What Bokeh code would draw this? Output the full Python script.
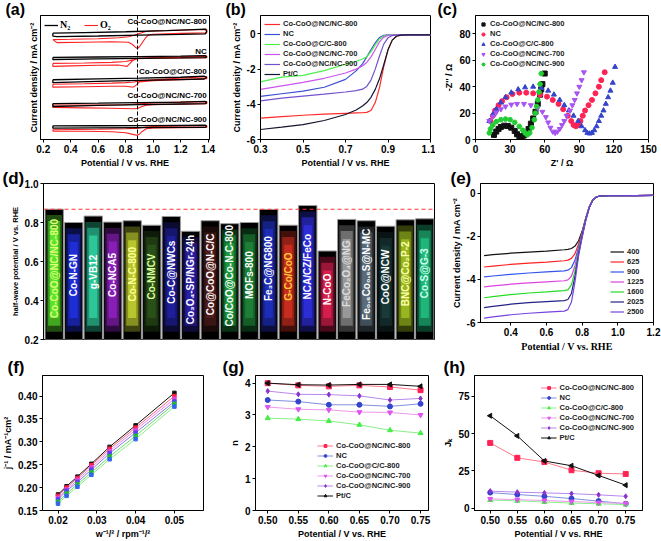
import numpy as np
from bokeh.plotting import figure
from bokeh.models import Range1d, FixedTicker, Label, Legend, LegendItem, Span, NumeralTickFormatter
from bokeh.layouts import column, row
from bokeh.embed import file_html
from bokeh.resources import INLINE
from bokeh.core.properties import value

FONT = "Liberation Sans"
SERIF = "Liberation Serif"

# ---------------- (a) CV curves, stacked (arbitrary offset units) ----------------
a_names = ["Co-CoO@NC/NC-800", "NC", "Co-CoO@C/C-800", "Co-CoO@NC/NC-700", "Co-CoO@NC/NC-900"]
a_n2_v = [
    [0.27, 0.5, 0.8, 1.1, 1.34, 1.38, 1.39, 1.38, 1.2, 0.9, 0.6, 0.3, 0.27, 0.27],
    [0.27, 0.6, 0.9, 1.2, 1.38, 1.39, 1.38, 1.2, 0.9, 0.6, 0.27, 0.27],
    [0.27, 0.6, 0.9, 1.2, 1.37, 1.39, 1.37, 1.2, 0.9, 0.6, 0.27, 0.27],
    [0.27, 0.6, 0.9, 1.2, 1.38, 1.39, 1.38, 1.2, 0.9, 0.6, 0.27, 0.27],
    [0.27, 0.6, 0.9, 1.2, 1.38, 1.39, 1.38, 1.2, 0.9, 0.6, 0.27, 0.27],
]
a_n2_j = [
    [-2.28, -2.22, -2.12, -2.00, -1.86, -1.84, -2.05, -2.36, -2.42, -2.51, -2.60, -2.67, -2.60, -2.28],
    [-5.00, -4.95, -4.90, -4.85, -4.80, -4.92, -5.03, -5.06, -5.10, -5.16, -5.23, -5.00],
    [-7.50, -7.40, -7.32, -7.22, -7.10, -7.25, -7.42, -7.48, -7.58, -7.68, -7.83, -7.50],
    [-10.17, -10.12, -10.06, -10.00, -9.93, -10.04, -10.17, -10.22, -10.30, -10.38, -10.50, -10.17],
    [-12.67, -12.66, -12.64, -12.62, -12.60, -12.71, -12.83, -12.85, -12.88, -12.90, -12.93, -12.67],
]
a_o2_v = [
    [0.27, 0.4, 0.6, 0.75, 0.82, 0.86, 0.9, 0.94, 0.98, 1.1, 1.3, 1.39, 1.39, 1.2, 1.0, 0.964, 0.94, 0.92, 0.90, 0.886, 0.87, 0.85, 0.82, 0.7, 0.5, 0.3, 0.27],
    [0.27, 0.5, 0.7, 0.8, 0.86, 0.9, 1.0, 1.39, 1.39, 1.0, 0.886, 0.85, 0.83, 0.81, 0.78, 0.745, 0.6, 0.4, 0.27, 0.27],
    [0.27, 0.5, 0.7, 0.8, 0.86, 0.9, 1.0, 1.39, 1.39, 1.0, 0.9, 0.88, 0.86, 0.84, 0.8, 0.7, 0.5, 0.27, 0.27],
    [0.27, 0.6, 0.8, 0.9, 1.0, 1.39, 1.39, 1.0, 0.95, 0.92, 0.89, 0.86, 0.7, 0.5, 0.27, 0.27],
    [0.27, 0.6, 0.8, 0.88, 0.95, 1.0, 1.39, 1.39, 1.0, 0.95, 0.92, 0.9, 0.88, 0.86, 0.8, 0.7, 0.5, 0.27, 0.27],
]
a_o2_j = [
    [-3.00, -2.97, -2.90, -2.80, -2.68, -2.52, -2.32, -2.13, -2.03, -1.98, -1.89, -1.86, -2.25, -2.30, -2.40, -2.50, -2.90, -3.35, -3.80, -4.00, -3.85, -3.55, -3.30, -3.25, -3.30, -3.34, -3.00],
    [-5.67, -5.63, -5.55, -5.45, -5.25, -5.10, -5.00, -4.85, -5.03, -5.10, -5.15, -5.35, -5.70, -6.00, -5.93, -5.85, -5.88, -5.95, -6.00, -5.67],
    [-8.00, -7.95, -7.88, -7.82, -7.75, -7.63, -7.50, -7.15, -7.38, -7.60, -7.75, -8.05, -8.30, -8.32, -8.23, -8.23, -8.28, -8.33, -8.00],
    [-10.33, -10.33, -10.30, -10.20, -10.10, -9.95, -10.20, -10.30, -10.35, -10.50, -10.70, -10.75, -10.70, -10.65, -10.60, -10.33],
    [-13.10, -13.05, -13.00, -12.95, -12.80, -12.75, -12.65, -12.85, -12.90, -13.00, -13.30, -13.60, -13.73, -13.65, -13.45, -13.33, -13.28, -13.27, -13.10],
]
a_label_j = [-1.0, -4.3, -6.6, -9.3, -12.0]
a_peak_v = 0.886

# ---------------- (b) LSV at 1600 rpm ----------------
b_names = ["Co-CoO@NC/NC-800", "NC", "Co-CoO@C/C-800", "Co-CoO@NC/NC-700", "Co-CoO@NC/NC-900", "Pt/C"]
b_colors = ["#ff2a2a", "#3b4fd3", "#4cf04c", "#cc55ee", "#7452cf", "#14142e"]
b_v = [0.30, 0.40, 0.50, 0.60, 0.70, 0.75, 0.78, 0.80, 0.82, 0.84, 0.86, 0.88, 0.90, 0.92, 0.94, 0.96, 1.00, 1.10]
b_j = [
    [-4.78, -4.70, -4.62, -4.56, -4.51, -4.49, -4.48, -4.46, -4.35, -3.90, -3.05, -1.85, -0.90, -0.35, -0.13, -0.07, -0.05, -0.04],
    [-3.55, -3.40, -3.25, -3.03, -2.58, -2.10, -1.70, -1.30, -0.90, -0.50, -0.20, -0.08, -0.05, -0.05, -0.04, -0.04, -0.04, -0.04],
    [-2.72, -2.45, -2.35, -2.08, -1.72, -1.55, -1.42, -1.30, -1.00, -0.62, -0.28, -0.11, -0.06, -0.05, -0.05, -0.05, -0.05, -0.05],
    [-3.15, -2.95, -2.75, -2.52, -2.22, -2.00, -1.82, -1.62, -1.30, -0.88, -0.45, -0.18, -0.08, -0.06, -0.05, -0.05, -0.05, -0.05],
    [-3.80, -3.65, -3.53, -3.42, -3.30, -3.22, -3.14, -2.98, -2.62, -2.00, -1.25, -0.58, -0.22, -0.09, -0.06, -0.05, -0.05, -0.05],
    [-5.43, -5.30, -5.15, -4.92, -4.58, -4.32, -4.10, -3.90, -3.60, -3.15, -2.55, -1.75, -0.90, -0.35, -0.13, -0.07, -0.05, -0.05],
]

# ---------------- (c) Nyquist plots ----------------
c_names = ["Co-CoO@NC/NC-800", "NC", "Co-CoO@C/C-800", "Co-CoO@NC/NC-700", "Co-CoO@NC/NC-900"]
c_colors = ["#111111", "#ff2255", "#3344cc", "#a855f0", "#22cc33"]
c_markers = ["square", "circle", "triangle", "inverted_triangle", "hex"]
c_zre = [
    [16, 18, 20, 22, 25, 28, 31, 34, 36, 38, 40, 42, 44, 46, 48, 50, 52, 54, 56, 57, 58, 60],
    [13, 15, 17, 20, 23, 27, 32, 38, 44, 50, 56, 62, 67, 72, 76, 80, 83, 85, 87, 89, 91, 93, 95, 98, 101, 104, 107, 109, 112],
    [12, 15, 18, 22, 26, 31, 37, 43, 50, 57, 63, 68, 73, 77, 81, 85, 89, 92, 95, 97, 99, 101, 103, 105, 107, 109, 111, 113, 115, 117, 119, 121],
    [12, 15, 18, 22, 26, 31, 36, 42, 48, 54, 58, 61, 63, 65, 67, 69, 71, 73, 75, 77, 79, 82, 84, 86, 88, 90, 92, 94],
    [12, 13, 15, 18, 22, 26, 30, 34, 38, 41, 43, 45, 47, 49, 51, 52, 53, 54, 55, 56, 57],
]
c_zim = [
    [3.5, 6, 8, 9.5, 10.5, 10.2, 9, 6.5, 4, 2.5, 2, 3, 5, 8, 12, 16, 21, 27, 34, 38, 42, 50],
    [14, 18, 22, 26, 29, 32, 34.5, 35.5, 35.5, 35, 34, 32.5, 30, 27, 23, 18, 14, 11, 10, 11, 14, 18, 22, 26, 30, 35, 40, 45, 51],
    [14, 19, 23, 28, 32, 35.5, 38, 39.5, 40, 39, 37, 34, 30, 26, 22, 18, 14, 10, 7, 5, 4.5, 5, 7, 10, 14, 18, 22, 27, 32, 37, 43, 55],
    [14, 17.5, 20.5, 23, 25, 26.5, 27, 27, 26, 24, 21, 17, 13, 9, 6, 5, 6, 8, 11, 14, 18, 22, 26, 30, 35, 40, 45, 51],
    [5, 8, 11, 13.5, 15, 15.5, 15, 13, 10, 7, 5, 3.5, 5, 9, 15, 20, 25, 30, 36, 42, 50],
]

# ---------------- (d) half-wave potential comparison ----------------
d_labels = ["Co-CoO@NC/NC-800", "Co-N-GN", "g-VB12", "Co-NCA5", "Co-N-C-800", "Co-NMCV",
            "Co-C@NWCs", "Co₃O₄-SP/NGr-24h", "Co@CoO@N-C/C", "Co/CoO@Co-N-C-800", "MOFs-800",
            "Fe₃C@NG800", "G-Co/CoO", "NCA/CZ/FeCo", "N-CoO", "FeCo₂O₄@NG", "Fe₀.₅Co₀.₅S@N-MC",
            "CoO@NCW", "BNC@Co₂P-2", "Co-S@G-3"]
d_values = [0.868, 0.800, 0.833, 0.802, 0.809, 0.786, 0.831, 0.755, 0.809, 0.794,
            0.800, 0.867, 0.786, 0.887, 0.654, 0.816, 0.809, 0.781, 0.814, 0.819]
d_glow = ["#66ff33", "#2233ee", "#33ddaa", "#9922cc", "#ccdd33", "#2f5a1e", "#2222aa", "#3322bb", "#5a2020", "#22aa44",
          "#1f8f3c", "#2233cc", "#dd3322", "#3333ee", "#ee2255", "#aaaaaa", "#667788", "#1e4040", "#aacc22", "#22cc88"]
d_text_colors = ["#ddff77", "#ffffff", "#ffffff", "#ffffff", "#ffff99", "#ddff99", "#ffffff", "#ffffff", "#ffffff", "#ffffff",
                 "#ffffff", "#ffffff", "#ffcc33", "#ffffff", "#ffffff", "#dddddd", "#ffffff", "#ffffff", "#ffffaa", "#ccffee"]

# ---------------- (e) LSV at various rotation rates ----------------
e_rpm = ["400", "625", "900", "1225", "1600", "2025", "2500"]
e_colors = ["#111111", "#ff2222", "#3355ee", "#dd44dd", "#22dd22", "#222288", "#7744dd"]
e_v = [0.25, 0.30, 0.40, 0.50, 0.60, 0.70, 0.72, 0.74, 0.76, 0.78, 0.80, 0.82, 0.84, 0.86, 0.88, 0.90, 0.95, 1.00, 1.10, 1.20]
e_j = [
    [-2.89, -2.85, -2.78, -2.73, -2.68, -2.62, -2.60, -2.56, -2.45, -2.20, -1.75, -1.15, -0.62, -0.30, -0.16, -0.12, -0.11, -0.11, -0.10, -0.09],
    [-3.42, -3.38, -3.30, -3.24, -3.19, -3.13, -3.10, -3.02, -2.80, -2.35, -1.80, -1.15, -0.62, -0.30, -0.16, -0.12, -0.11, -0.11, -0.10, -0.09],
    [-3.88, -3.84, -3.76, -3.70, -3.65, -3.60, -3.57, -3.45, -3.10, -2.50, -1.85, -1.18, -0.63, -0.30, -0.16, -0.12, -0.11, -0.11, -0.10, -0.09],
    [-4.34, -4.30, -4.22, -4.16, -4.11, -4.06, -4.02, -3.85, -3.35, -2.60, -1.90, -1.20, -0.64, -0.30, -0.16, -0.12, -0.11, -0.11, -0.10, -0.09],
    [-4.85, -4.80, -4.70, -4.63, -4.58, -4.52, -4.48, -4.25, -3.60, -2.70, -1.95, -1.22, -0.65, -0.30, -0.16, -0.12, -0.11, -0.11, -0.10, -0.09],
    [-5.31, -5.25, -5.15, -5.08, -5.03, -4.98, -4.93, -4.65, -3.85, -2.80, -2.00, -1.25, -0.66, -0.31, -0.16, -0.12, -0.11, -0.11, -0.10, -0.09],
    [-5.80, -5.74, -5.64, -5.57, -5.52, -5.47, -5.40, -5.05, -4.10, -2.90, -2.05, -1.27, -0.67, -0.31, -0.16, -0.12, -0.11, -0.11, -0.10, -0.09],
]

# ---------------- (f) Koutecky-Levich plots ----------------
f_w = [0.0200, 0.0222, 0.0250, 0.0286, 0.0333, 0.0400, 0.0500]
f_colors = ["#111111", "#ff2244", "#dd44dd", "#5544ee", "#22bb33", "#3366ee"]
f_line_colors = ["#111111", "#ff6677", "#ee88ee", "#8877ee", "#66dd66", "#88ee88"]
f_j = [
    [0.185, 0.203, 0.224, 0.252, 0.289, 0.336, 0.407],
    [0.182, 0.200, 0.221, 0.249, 0.285, 0.331, 0.400],
    [0.178, 0.196, 0.217, 0.244, 0.280, 0.326, 0.394],
    [0.174, 0.193, 0.212, 0.239, 0.275, 0.320, 0.388],
    [0.169, 0.187, 0.207, 0.233, 0.268, 0.313, 0.383],
    [0.165, 0.182, 0.202, 0.228, 0.262, 0.306, 0.377],
]

# ---------------- (g) electron transfer number, (h) kinetic current ----------------
gh_v = [0.50, 0.55, 0.60, 0.65, 0.70, 0.75]
gh_names = ["Co-CoO@NC/NC-800", "NC", "Co-CoO@C/C-800", "Co-CoO@NC/NC-700", "Co-CoO@NC/NC-900", "Pt/C"]
gh_colors = ["#ff2255", "#3344cc", "#44ee44", "#dd55ee", "#8833cc", "#111111"]
gh_line_colors = ["#ff7788", "#8090dd", "#88f088", "#ee99ee", "#b888ee", "#111111"]
gh_markers = ["square", "circle", "triangle", "inverted_triangle", "diamond", "triangle"]
gh_angles = [0, 0, 0, 0, 0, np.pi / 2]
g_n = [
    [4.00, 3.93, 3.90, 3.93, 3.88, 3.78],
    [3.47, 3.42, 3.32, 3.32, 3.27, 3.35],
    [2.90, 2.87, 2.81, 2.69, 2.52, 2.43],
    [3.25, 3.18, 3.16, 3.09, 3.08, 3.00],
    [3.75, 3.65, 3.64, 3.60, 3.47, 3.52],
    [4.00, 3.95, 3.94, 3.96, 3.96, 3.90],
]
h_jk = [
    [43.8, 33.8, 31.0, 25.5, 23.5, 23.0],
    [10.5, 9.2, 8.0, 6.5, 4.8, 3.0],
    [5.5, 5.0, 4.2, 3.5, 3.0, 2.5],
    [6.3, 5.8, 5.2, 4.5, 3.8, 3.3],
    [11.5, 10.8, 10.3, 9.8, 9.0, 8.0],
    [62.0, 48.5, 31.7, 28.5, 22.0, 15.5],
]


def mk(w, h, l, r, t, b, xr, yr, xticks=None, yticks=None, xfmt=None, yfmt=None):
    p = figure(width=w, height=h, x_range=Range1d(*xr), y_range=Range1d(*yr),
               output_backend="svg", toolbar_location=None,
               min_border_left=l, min_border_right=r, min_border_top=t, min_border_bottom=b)
    p.xgrid.visible = False
    p.ygrid.visible = False
    p.outline_line_color = "black"
    p.outline_line_alpha = 1
    p.outline_line_width = 1
    p.background_fill_color = "white"
    p.border_fill_color = "white"
    for ax in (p.xaxis[0], p.yaxis[0]):
        ax.axis_line_color = "black"
        ax.major_tick_out = 3
        ax.major_tick_in = 0
        ax.minor_tick_out = 0
        ax.minor_tick_in = 0
        ax.major_label_text_font = FONT
        ax.major_label_text_font_style = "bold"
        ax.major_label_text_font_size = "10px"
        ax.major_label_text_color = "black"
        ax.major_label_standoff = 2
        ax.axis_label_text_font = FONT
        ax.axis_label_text_font_style = "bold"
        ax.axis_label_text_font_size = "9px"
        ax.axis_label_text_color = "black"
        ax.axis_label_standoff = 2
    if xticks is not None:
        p.xaxis.ticker = FixedTicker(ticks=xticks)
    if yticks is not None:
        p.yaxis.ticker = FixedTicker(ticks=yticks)
    if xfmt is not None:
        p.xaxis.formatter = NumeralTickFormatter(format=xfmt)
    if yfmt is not None:
        p.yaxis.formatter = NumeralTickFormatter(format=yfmt)
    return p


def tag_title(p, txt, dx, so, size="17px"):
    # panel letter drawn as the figure title, shifted left of the frame
    p.title.text = txt
    p.title.align = "left"
    p.title.offset = dx
    p.title.standoff = so
    p.title.text_font = FONT
    p.title.text_font_style = "bold"
    p.title.text_font_size = size
    p.title.text_color = "black"


def style_legend(lg, size="7.5px", lh=8):
    lg.background_fill_alpha = 0
    lg.border_line_alpha = 0
    lg.label_text_font = FONT
    lg.label_text_font_style = "bold"
    lg.label_text_font_size = size
    lg.label_text_color = "#222222"
    lg.label_height = lh
    lg.glyph_height = lh
    lg.glyph_width = 16
    lg.spacing = 1
    lg.padding = 2
    lg.margin = 2
    lg.label_standoff = 3


# ===== (a) =====
pa = mk(220, 170, 40, 11, 3, 28, (0.18, 1.41), (-14.2, -0.3), xticks=[0.2, 0.4, 0.6, 0.8, 1.0, 1.2, 1.4], yticks=[],
        xfmt="0.0")
pa.xaxis.axis_label = "Potential / V vs. RHE"
pa.yaxis.axis_label = "Current density / mA cm⁻²"
pa.add_layout(Span(location=a_peak_v, dimension="height", line_color="black", line_dash="4 2", line_width=1))
r_o2 = None
r_n2 = None
for i in range(len(a_names)):
    ro = pa.line(a_o2_v[i], a_o2_j[i], line_color="#ff2020", line_width=1.1)
    rn = pa.line(a_n2_v[i], a_n2_j[i], line_color="black", line_width=1.3)
    if i == 0:
        r_o2, r_n2 = ro, rn
    pa.add_layout(Label(x=1.39, y=a_label_j[i], text=a_names[i], text_font=FONT, text_font_style="bold",
                        text_font_size="8px", text_align="right", text_baseline="middle", text_color="black"))
lga = Legend(items=[LegendItem(label="N₂", renderers=[r_n2]), LegendItem(label="O₂", renderers=[r_o2])],
             orientation="horizontal", location="top_left")
style_legend(lga, size="10px", lh=10)
lga.label_text_font = SERIF
lga.label_text_color = "black"
lga.glyph_width = 14
lga.label_standoff = 2
lga.spacing = 4
pa.add_layout(lga)
tag_title(pa, "(a)", -35, -4, "16px")

# ===== (b) =====
pb = mk(215, 170, 40, 5, 3, 28, (0.3, 1.1), (-6, 1.05), xticks=[0.3, 0.5, 0.7, 0.9, 1.1], yticks=[0, -2, -4, -6],
        xfmt="0.0", yfmt="0")
pb.xaxis.axis_label = "Potential / V vs. RHE"
pb.yaxis.axis_label = "Current density / mA cm⁻²"
items = []
for i in range(len(b_names)):
    r = pb.line(b_v, b_j[i], line_color=b_colors[i], line_width=1.2)
    items.append(LegendItem(label=b_names[i], renderers=[r]))
lgb = Legend(items=items, location="top_left")
style_legend(lgb, size="7.5px", lh=8)
pb.add_layout(lgb)
tag_title(pb, "(b)", -35, -4, "16px")

# ===== (c) =====
pc = mk(226, 170, 40, 13, 3, 28, (0, 150), (0, 94), xticks=[0, 30, 60, 90, 120, 150], yticks=[0, 20, 40, 60, 80])
pc.xaxis.axis_label = "Z' / Ω"
pc.yaxis.axis_label = "-Z'' / Ω"
items = []
for i in range(len(c_names)):
    r = pc.scatter(c_zre[i], c_zim[i], marker=c_markers[i], size=5, fill_color=c_colors[i], line_color=c_colors[i])
    items.append(LegendItem(label=c_names[i], renderers=[r]))
lgc = Legend(items=items, location="top_left")
style_legend(lgc, size="7.5px", lh=8)
lgc.glyph_width = 8
pc.add_layout(lgc)
tag_title(pc, "(c)", -38, -4, "16px")

# ===== (d) =====
n = len(d_values)
xs = list(range(1, n + 1))
pd_ = mk(440, 187, 43, 6, 11, 18, (0.45, n + 0.5), (0.2, 1.0), yticks=[0.2, 0.4, 0.6, 0.8, 1.0], yfmt="0.0")
pd_.xaxis.visible = False
pd_.yaxis.axis_label = "half-wave potential / V vs. RHE"
pd_.yaxis.axis_label_text_font_size = "7.5px"
vals = np.array(d_values)
pd_.vbar(x=xs, width=0.94, bottom=0.2, top=vals, fill_color="black", line_color="#9a9a9a", line_width=1)
pd_.vbar(x=xs, width=0.8, bottom=0.24, top=vals - 0.03, fill_color=d_glow, fill_alpha=0.3, line_alpha=0)
pd_.vbar(x=xs, width=0.62, bottom=0.27, top=vals - 0.06, fill_color=d_glow, fill_alpha=0.5, line_alpha=0)
pd_.vbar(x=xs, width=0.42, bottom=0.31, top=vals - 0.1, fill_color=d_glow, fill_alpha=0.7, line_alpha=0)
pd_.add_layout(Span(location=d_values[0], dimension="width", line_color="#ff3333", line_dash="4 3", line_width=1.2))
pd_.text(x=xs, y=(0.2 + vals) / 2 + 0.03, text=d_labels, angle=np.pi / 2, text_align="center", text_baseline="middle",
         text_color=d_text_colors, text_font=value(FONT), text_font_style="bold", text_font_size="10px")
tag_title(pd_, "(d)", -41, -8)

# ===== (e) =====
pe = mk(221, 187, 40, 8, 12, 35, (0.23, 1.2), (-6, 0.46), xticks=[0.4, 0.6, 0.8, 1.0, 1.2], yticks=[0, -2, -4, -6],
        xfmt="0.0", yfmt="0")
pe.xaxis.axis_label = "Potential / V vs. RHE"
pe.xaxis.axis_label_text_font = SERIF
pe.xaxis.axis_label_text_font_size = "10px"
pe.yaxis.axis_label = "Current density / mA cm⁻²"
items = []
for i in range(len(e_rpm)):
    r = pe.line(e_v, e_j[i], line_color=e_colors[i], line_width=1.2)
    items.append(LegendItem(label=e_rpm[i], renderers=[r]))
lge = Legend(items=items, location="bottom_right")
style_legend(lge, size="7.5px", lh=7)
lge.glyph_width = 14
lge.margin = 4
pe.add_layout(lge)
tag_title(pe, "(e)", -30, -8)

# ===== (f) =====
pf = mk(220, 184, 38, 17, 18, 27, (0.016, 0.0575), (0.15, 0.445), xticks=[0.02, 0.03, 0.04, 0.05],
        yticks=[0.15, 0.20, 0.25, 0.30, 0.35, 0.40], xfmt="0.00", yfmt="0.00")
pf.xaxis.axis_label = "w⁻¹/² / rpm⁻¹/²"
pf.yaxis.axis_label = "j⁻¹ / mA⁻¹cm²"
for i in range(len(f_j)):
    pf.line(f_w, f_j[i], line_color=f_line_colors[i], line_width=1)
    pf.scatter(f_w, f_j[i], marker="square", size=3.5, fill_color=f_colors[i], line_color=f_colors[i])
tag_title(pf, "(f)", -35, -3)

# ===== (g) =====
pg = mk(220, 184, 35, 12, 18, 27, (0.48, 0.763), (0, 4.24), xticks=gh_v, yticks=[0, 1, 2, 3, 4], xfmt="0.00", yfmt="0")
pg.xaxis.axis_label = "Potential / V vs. RHE"
pg.yaxis.axis_label = "n"
items = []
for i in range(len(gh_names)):
    rl = pg.line(gh_v, g_n[i], line_color=gh_line_colors[i], line_width=1)
    rs = pg.scatter(gh_v, g_n[i], marker=gh_markers[i], angle=gh_angles[i], size=5,
                    fill_color=gh_colors[i], line_color=gh_colors[i])
    items.append(LegendItem(label=gh_names[i], renderers=[rl, rs]))
lgg = Legend(items=items, location=(60, 8))
style_legend(lgg, size="7.5px", lh=7)
pg.add_layout(lgg)
tag_title(pg, "(g)", -33, -3)

# ===== (h) =====
ph = mk(221, 184, 32, 19, 18, 27, (0.471, 0.781), (-1.5, 89), xticks=gh_v, yticks=[0, 25, 50, 75], xfmt="0.00", yfmt="0")
ph.xaxis.axis_label = "Potential / V vs. RHE"
ph.yaxis.axis_label = "Jₖ"
items = []
for i in range(len(gh_names)):
    rl = ph.line(gh_v, h_jk[i], line_color=gh_line_colors[i], line_width=1)
    rs = ph.scatter(gh_v, h_jk[i], marker=gh_markers[i], angle=gh_angles[i], size=5,
                    fill_color=gh_colors[i], line_color=gh_colors[i])
    items.append(LegendItem(label=gh_names[i], renderers=[rl, rs]))
lgh = Legend(items=items, location="top_right")
style_legend(lgh, size="7.5px", lh=7)
lgh.margin = 6
ph.add_layout(lgh)
tag_title(ph, "(h)", -31, -3)

layout = column(row(pa, pb, pc, spacing=0),
                row(column(pd_, spacing=0), column(pe, spacing=0), spacing=0),
                row(pf, pg, ph, spacing=0), spacing=0)
open("out.html", "w").write(file_html(layout, INLINE))
